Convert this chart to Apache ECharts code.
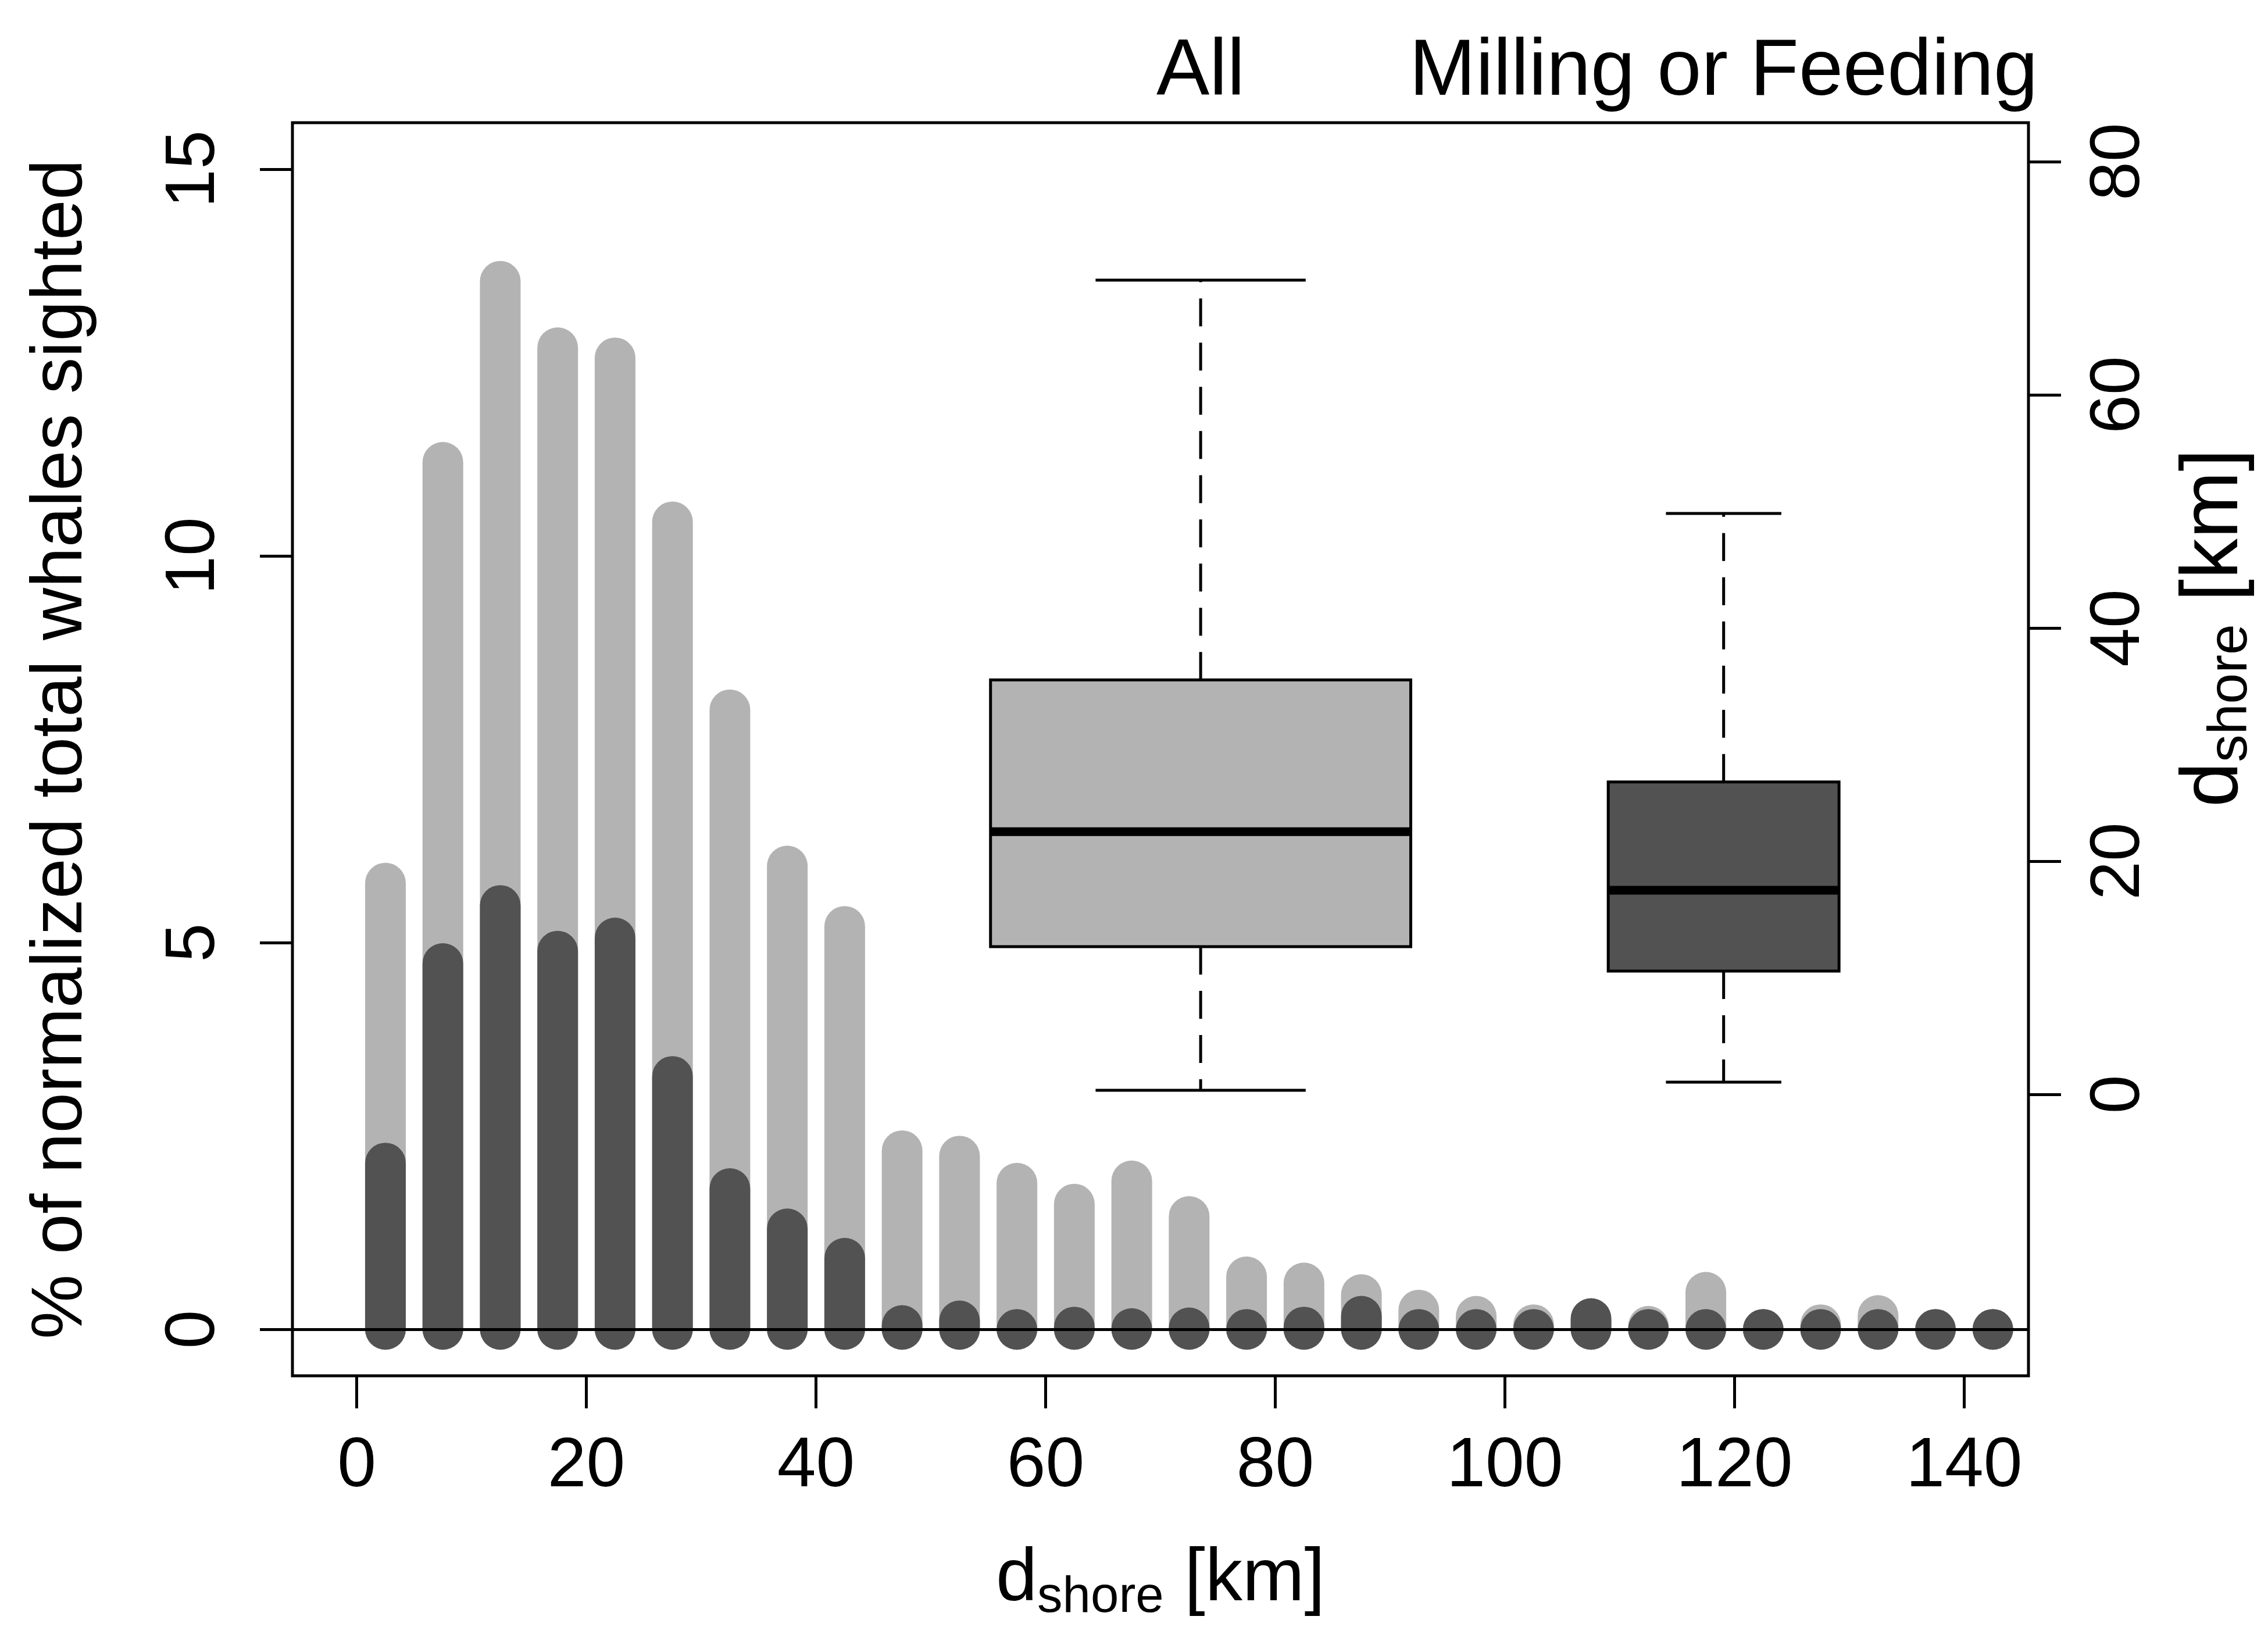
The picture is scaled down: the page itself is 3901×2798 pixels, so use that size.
<!DOCTYPE html>
<html>
<head>
<meta charset="utf-8">
<title>Whales sighted vs distance to shore</title>
<script src="https://cdn.jsdelivr.net/npm/echarts@6/dist/echarts.min.js"></script>
<style>
  html, body { margin: 0; padding: 0; background: #fff; }
  #chart { width: 3901px; height: 2798px; }
</style>
</head>
<body>
<div id="chart"></div>
<script>
// distance bins (km), bin centres
var binCenters = [2.5, 7.5, 12.5, 17.5, 22.5, 27.5, 32.5, 37.5, 42.5, 47.5,
                  52.5, 57.5, 62.5, 67.5, 72.5, 77.5, 82.5, 87.5, 92.5, 97.5,
                  102.5, 107.5, 112.5, 117.5, 122.5, 127.5, 132.5, 137.5, 142.5];
// % of normalized total whales sighted, all behaviours
var allPct = [5.77, 11.21, 13.55, 12.69, 12.56, 10.44, 8.01, 5.99, 5.21, 2.31,
              2.24, 1.89, 1.62, 1.92, 1.46, 0.68, 0.60, 0.45, 0.25, 0.17,
              0.06, 0.10, 0.04, 0.48, 0, 0.06, 0.18, 0, 0];
// % of normalized total whales sighted, milling or feeding
var millPct = [2.15, 4.73, 5.48, 4.89, 5.06, 3.27, 1.82, 1.30, 0.92, 0.05,
               0.11, 0, 0.03, 0.01, 0.02, 0, 0.03, 0.17, 0, 0,
               0, 0.14, 0, 0, 0, 0, 0, 0, 0];

// boxplots of d_shore (right axis): lower whisker, Q1, median, Q3, upper whisker
var boxNames = ['All', 'Milling or Feeding'];
var boxStats = [
  [0.35, 12.67, 22.53, 35.55, 69.84],
  [1.05, 10.57, 17.50, 26.80, 49.83]
];

var xTicks = [0, 20, 40, 60, 80, 100, 120, 140];
var leftTicks = [0, 5, 10, 15];
var rightTicks = [0, 20, 40, 60, 80];

// layout of the boxes on the x scale (centre, half width)
var boxAt = [73.5, 119.05];
var boxHalf = [18.3, 10.05];

var FONT = '"Liberation Sans", Arial, Helvetica, sans-serif';
var LIGHT = '#b3b3b3';
var DARK = '#525252';
var BAR_W = 70;

function barRenderer(color) {
  return function (params, api) {
    var base = api.coord([api.value(0), 0]);
    var top = api.coord([api.value(0), api.value(1)]);
    var r = BAR_W / 2;
    return {
      type: 'rect',
      shape: { x: base[0] - r, y: top[1] - r, width: BAR_W, height: base[1] - top[1] + BAR_W, r: r },
      style: { fill: color }
    };
  };
}

function renderBox(params, api) {
  var i = params.dataIndex;
  var cx = api.value(0);
  var x = api.coord([cx, 0])[0];
  var xl = api.coord([cx - boxHalf[i], 0])[0];
  var xr = api.coord([cx + boxHalf[i], 0])[0];
  var cl = api.coord([cx - boxHalf[i] / 2, 0])[0];
  var cr = api.coord([cx + boxHalf[i] / 2, 0])[0];
  var y = [1, 2, 3, 4, 5].map(function (d) { return api.coord([cx, api.value(d)])[1]; });
  var line = { stroke: '#000', lineWidth: 5 };
  var dash = { stroke: '#000', lineWidth: 5, lineDash: [48, 28] };
  return {
    type: 'group',
    children: [
      { type: 'line', shape: { x1: x, y1: y[3], x2: x, y2: y[4] }, style: dash },
      { type: 'line', shape: { x1: x, y1: y[1], x2: x, y2: y[0] }, style: dash },
      { type: 'line', shape: { x1: cl, y1: y[4], x2: cr, y2: y[4] }, style: line },
      { type: 'line', shape: { x1: cl, y1: y[0], x2: cr, y2: y[0] }, style: line },
      { type: 'rect', shape: { x: xl, y: y[3], width: xr - xl, height: y[1] - y[3] },
        style: { fill: i === 0 ? LIGHT : DARK, stroke: '#000', lineWidth: 5 } },
      { type: 'line', shape: { x1: xl, y1: y[2], x2: xr, y2: y[2] }, style: { stroke: '#000', lineWidth: 15 } }
    ]
  };
}

var chart = echarts.init(document.getElementById('chart'), null, { renderer: 'canvas' });

var tickStyle = { color: '#000', width: 5 };
var option = {
  animation: false,
  backgroundColor: '#fff',
  grid: {
    left: 503, top: 211, width: 2986, height: 2155,
    show: true, borderColor: '#000', borderWidth: 5, backgroundColor: 'transparent',
    containLabel: false, outerBoundsMode: 'none'
  },
  xAxis: [{
    type: 'value', min: -5.6, max: 145.6, position: 'bottom',
    axisLine: { show: false, onZero: false }, splitLine: { show: false },
    axisTick: { show: true, length: 56, lineStyle: tickStyle, customValues: xTicks },
    axisLabel: { customValues: xTicks, fontSize: 120, fontFamily: FONT, color: '#000', margin: 97 }
  }, {
    type: 'value', min: -5.6, max: 145.6, position: 'top',
    axisLine: { show: false, onZero: false }, splitLine: { show: false }, axisTick: { show: false },
    axisLabel: {
      customValues: boxAt, fontSize: 137, fontFamily: FONT, color: '#000', margin: 17,
      formatter: function (v) { var k = boxAt.indexOf(v); return k < 0 ? '' : boxNames[k]; }
    }
  }],
  yAxis: [{
    type: 'value', min: -0.6, max: 15.6, position: 'left',
    axisLine: { show: false, onZero: false }, splitLine: { show: false },
    axisTick: { show: true, length: 56, lineStyle: tickStyle, customValues: leftTicks },
    axisLabel: { customValues: leftTicks, rotate: 90, fontSize: 120, fontFamily: FONT, color: '#000', margin: 108 }
  }, {
    type: 'value', min: -24.14, max: 83.34, position: 'right',
    axisLine: { show: false, onZero: false }, splitLine: { show: false },
    axisTick: { show: true, length: 56, lineStyle: tickStyle, customValues: rightTicks },
    axisLabel: { customValues: rightTicks, rotate: 90, fontSize: 120, fontFamily: FONT, color: '#000', margin: 97 }
  }],
  series: [{
    name: 'All', type: 'custom', xAxisIndex: 0, yAxisIndex: 0, z: 2,
    renderItem: barRenderer(LIGHT),
    data: binCenters.map(function (x, i) { return [x, allPct[i]]; }),
    encode: { x: 0, y: 1 }
  }, {
    name: 'Milling or Feeding', type: 'custom', xAxisIndex: 0, yAxisIndex: 0, z: 3,
    renderItem: barRenderer(DARK),
    data: binCenters.map(function (x, i) { return [x, millPct[i]]; }),
    encode: { x: 0, y: 1 },
    markLine: {
      silent: true, symbol: ['none', 'none'], label: { show: false },
      lineStyle: { color: '#000', width: 5, type: 'solid' },
      emphasis: { disabled: true },
      data: [{ yAxis: 0 }]
    }
  }, {
    name: 'dshore', type: 'custom', xAxisIndex: 0, yAxisIndex: 1, z: 4,
    renderItem: renderBox,
    data: boxStats.map(function (s, i) { return [boxAt[i]].concat(s); }),
    encode: { x: 0, y: [1, 2, 3, 4, 5] }
  }]
};
chart.setOption(option);

// axis titles
var leftMid = chart.convertToPixel({ yAxisIndex: 0 }, 7.5);
var rightMid = chart.convertToPixel({ yAxisIndex: 1 }, 40);
var bottomMid = chart.convertToPixel({ xAxisIndex: 0 }, 70);

function dshore(size, sub, subH) {
  return {
    text: '{m|d}{s|shore}{m| [km]}',
    rich: {
      m: { fontSize: size, fontFamily: FONT, lineHeight: 150, verticalAlign: 'middle', fill: '#000' },
      s: { fontSize: sub, fontFamily: FONT, lineHeight: subH, verticalAlign: 'bottom', fill: '#000' }
    },
    fill: '#000', align: 'center', verticalAlign: 'middle', textAlign: 'center', textVerticalAlign: 'middle'
  };
}

chart.setOption({
  graphic: [{
    type: 'text', x: 105.7, y: leftMid, rotation: Math.PI / 2,
    style: {
      text: '% of normalized total whales sighted', fontSize: 125, fontFamily: FONT, fill: '#000',
      align: 'center', verticalAlign: 'middle', textAlign: 'center', textVerticalAlign: 'middle'
    }
  }, {
    type: 'text', x: bottomMid, y: 2717, style: dshore(128, 87, 82)
  }, {
    type: 'text', x: 3809.8, y: rightMid, rotation: Math.PI / 2, style: dshore(139, 95, 72)
  }]
});
</script>
</body>
</html>
